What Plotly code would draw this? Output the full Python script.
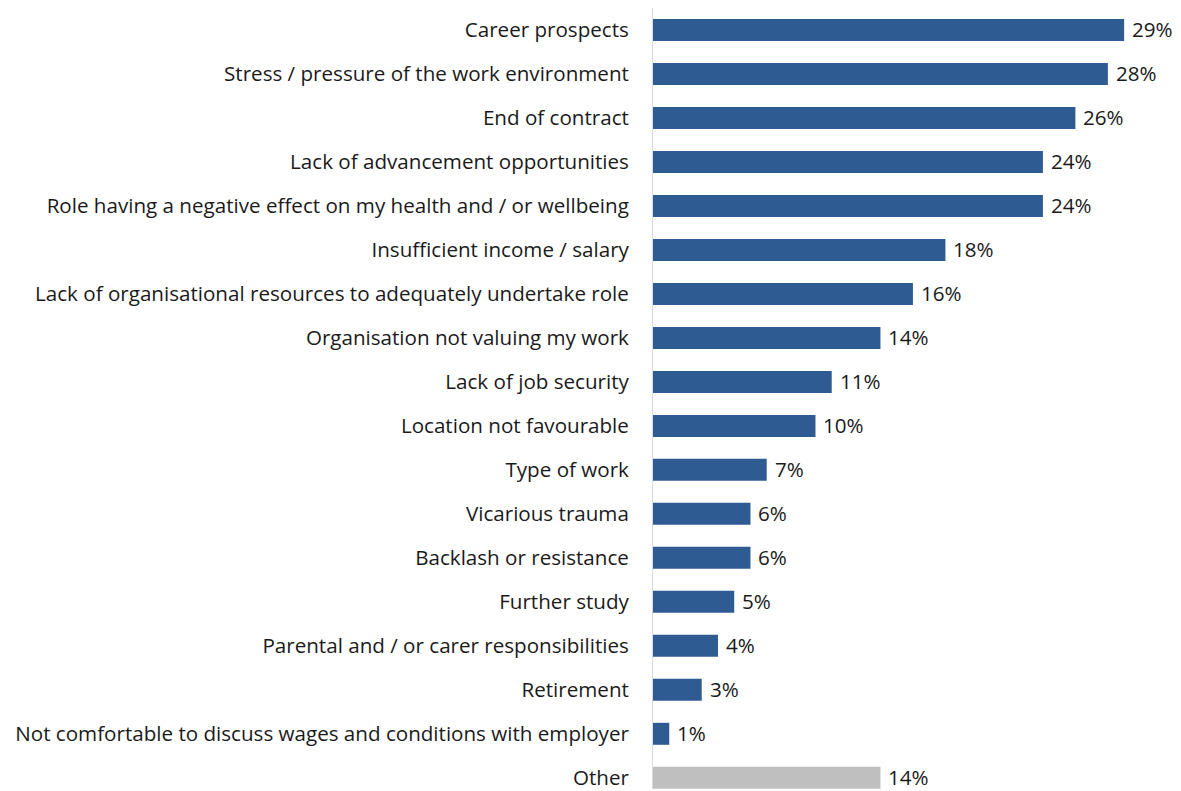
import plotly.graph_objects as go

# Reasons for leaving, share of respondents (%)
categories = [
    "Career prospects",
    "Stress / pressure of the work environment",
    "End of contract",
    "Lack of advancement opportunities",
    "Role having a negative effect on my health and / or wellbeing",
    "Insufficient income / salary",
    "Lack of organisational resources to adequately undertake role",
    "Organisation not valuing my work",
    "Lack of job security",
    "Location not favourable",
    "Type of work",
    "Vicarious trauma",
    "Backlash or resistance",
    "Further study",
    "Parental and / or carer responsibilities",
    "Retirement",
    "Not comfortable to discuss wages and conditions with employer",
    "Other",
]
values = [29, 28, 26, 24, 24, 18, 16, 14, 11, 10, 7, 6, 6, 5, 4, 3, 1, 14]

BLUE = "#2F5B93"
GREY = "#BFBFBF"
TEXT = "#1A1A1A"
FONT = "Open Sans"
SIZE = 20.6

colors = [GREY if c == "Other" else BLUE for c in categories]

fig = go.Figure(
    go.Bar(
        x=values,
        y=categories,
        orientation="h",
        marker=dict(color=colors, line=dict(width=0)),
        width=0.5,
        hoverinfo="x+y",
    )
)

# value labels just past the end of each bar
for c, v in zip(categories, values):
    fig.add_annotation(
        x=v, y=c, text=f"{v}%", showarrow=False,
        xanchor="left", yanchor="middle", xshift=6, yshift=1,
        font=dict(family=FONT, size=SIZE, color=TEXT),
    )

fig.update_layout(
    width=1181,
    height=791,
    margin=dict(l=653, r=0, t=8, b=0),
    paper_bgcolor="white",
    plot_bgcolor="white",
    showlegend=False,
    font=dict(family=FONT, size=SIZE, color=TEXT),
)
fig.update_xaxes(
    range=[0, 32.5], visible=False, showgrid=False, zeroline=False,
)
fig.update_yaxes(
    type="category",
    categoryorder="array",
    categoryarray=categories,
    range=[len(categories) - 0.745, -0.5],
    showgrid=False,
    zeroline=False,
    showline=True,
    linecolor="#D9D9D9",
    linewidth=1,
    ticks="",
    ticklabelstandoff=19,
    tickfont=dict(family=FONT, size=SIZE, color=TEXT),
)

fig.write_html("out.html")
